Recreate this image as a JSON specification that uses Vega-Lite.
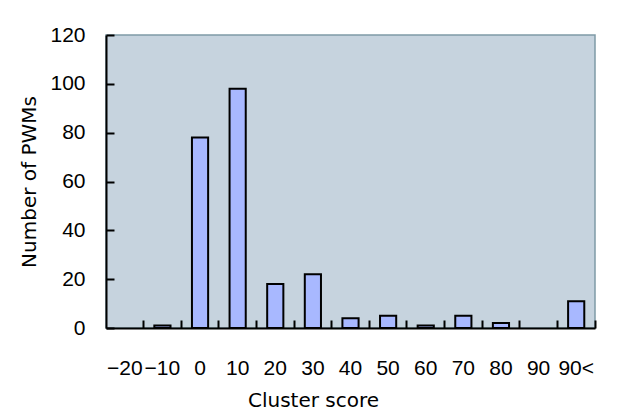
{
  "$schema": "https://vega.github.io/schema/vega-lite/v6.json",
  "width": 489,
  "height": 293,
  "autosize": {"type": "none"},
  "padding": {"left": 106, "top": 35, "right": 42, "bottom": 87},
  "background": "white",
  "data": {"values": [
    {"score": "−10", "count": 1},
    {"score": "0", "count": 78},
    {"score": "10", "count": 98},
    {"score": "20", "count": 18},
    {"score": "30", "count": 22},
    {"score": "40", "count": 4},
    {"score": "50", "count": 5},
    {"score": "60", "count": 1},
    {"score": "70", "count": 5},
    {"score": "80", "count": 2},
    {"score": "90<", "count": 11}
  ]},
  "mark": {"type": "bar", "fill": "#a8b8ff", "stroke": "#000000", "strokeWidth": 2},
  "encoding": {
    "x": {
      "field": "score", "type": "nominal",
      "scale": {
        "domain": ["−20", "−10", "0", "10", "20", "30", "40", "50", "60", "70", "80", "90", "90<"],
        "paddingInner": 0.57, "paddingOuter": 0.285
      },
      "axis": {
        "title": "Cluster score", "labelAngle": 0, "bandPosition": 1.6628,
        "tickSize": -8, "labelPadding": 37, "titlePadding": 12, "titleX": 207
      }
    },
    "y": {
      "field": "count", "type": "quantitative",
      "scale": {"domain": [0, 120], "nice": false},
      "axis": {
        "title": "Number of PWMs", "values": [0, 20, 40, 60, 80, 100, 120],
        "grid": false, "tickSize": -8, "labelPadding": 29, "titlePadding": 10
      }
    }
  },
  "config": {
    "view": {"fill": "#c6d3de", "stroke": "#7f9aa6", "strokeWidth": 1.5},
    "axis": {
      "domainColor": "#000000", "domainWidth": 2, "tickColor": "#000000", "tickWidth": 2,
      "labelFont": "Liberation Sans", "labelFontSize": 21, "labelColor": "#000000",
      "titleFont": "DejaVu Sans", "titleFontSize": 20, "titleFontWeight": "normal", "titleColor": "#000000"
    }
  }
}
